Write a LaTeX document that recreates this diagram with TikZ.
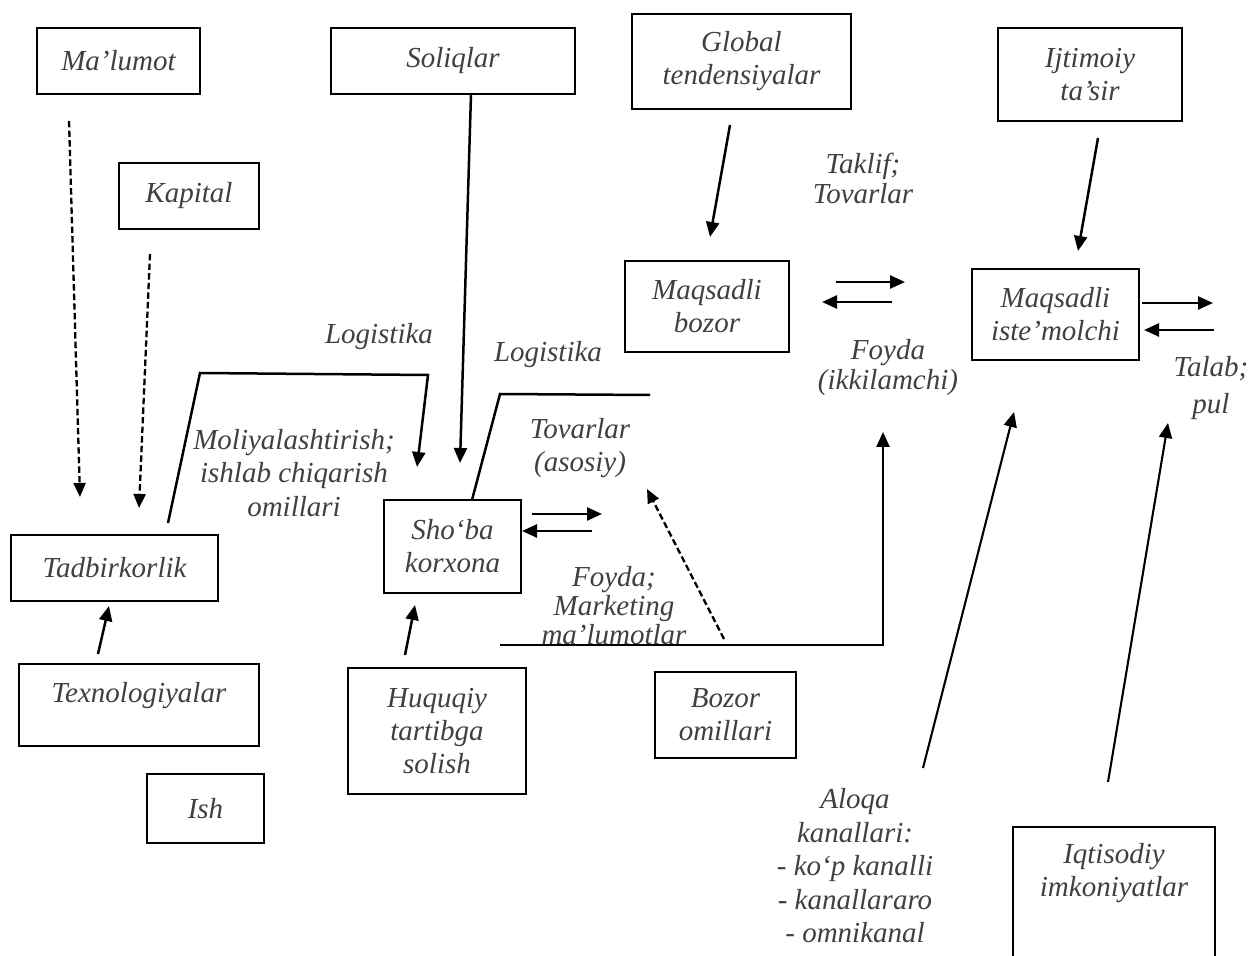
\documentclass[tikz,border=0pt]{standalone}
\usepackage{fontspec}
\setmainfont{Liberation Serif}
\usetikzlibrary{arrows.meta}
\definecolor{txt}{gray}{0.25}

\begin{document}
\begin{tikzpicture}[x=0.5pt,y=-0.5pt,
  lbl/.style={font=\itshape\fontsize{14.5}{16.5}\selectfont, text=txt, align=center, inner sep=0pt},
  box/.style={lbl, draw=black, line width=1.15pt},
  arr/.style={line width=1.25pt, -{Triangle[length=7.5pt,width=6.5pt]}},
  darr/.style={line width=1.15pt, dash pattern=on 3.2pt off 1.6pt, -{Triangle[length=7pt,width=6pt]}},
  flow/.style={line width=1.25pt},
  thin flow/.style={line width=1.05pt, -{Triangle[length=7.5pt,width=6.5pt]}},
]
\useasboundingbox (0,0) rectangle (1252,956);
\clip (0,0) rectangle (1252,956);

% ---------- boxes ----------
\node[box, minimum width=81.5pt, minimum height=33pt] (malumot) at (118.5,61) {Ma’lumot};
\node[box, minimum width=70pt, minimum height=33pt] (kapital) at (189,196) {Kapital};
\node[box, minimum width=122pt, minimum height=33pt] (soliq) at (453,61) {Soliqlar};
\node[box, minimum width=109.5pt, minimum height=47.5pt] (global) at (741.5,61.5) {Global\\tendensiyalar};
\node[box, minimum width=92pt, minimum height=46.5pt] (ijtimoiy) at (1090,74.5) {Ijtimoiy\\ta’sir};
\node[box, minimum width=82pt, minimum height=45.5pt] (mbozor) at (707,306.5) {Maqsadli\\bozor};
\node[box, minimum width=83.5pt, minimum height=45.5pt] (miste) at (1055.5,314.5) {Maqsadli\\iste’molchi};
\node[box, minimum width=68.5pt, minimum height=46.5pt] (shoba) at (452.5,546.5) {Sho‘ba\\korxona};
\node[box, minimum width=103.5pt, minimum height=33pt] (tadbir) at (114.5,568) {Tadbirkorlik};
\node[box, minimum width=120pt, minimum height=41pt, text depth=13pt] (texno) at (139,705) {Texnologiyalar};
\node[box, minimum width=58.5pt, minimum height=34.5pt] (ish) at (205.5,808.5) {Ish};
\node[box, minimum width=89pt, minimum height=63pt] (huquq) at (437,731) {Huquqiy\\tartibga\\solish};
\node[box, minimum width=70.5pt, minimum height=43pt] (bozor) at (725.5,715) {Bozor\\omillari};
% open-ended frame running past the lower edge
\node[lbl] (iqt) at (1114,873.5) {Iqtisodiy\\imkoniyatlar};
\draw[line width=1.15pt] (1013,990) |- (1215,827) -- (1215,990);

% ---------- free labels ----------
\node[lbl] (log1) at (379,337) {Logistika};
\node[lbl] (log2) at (548,355) {Logistika};
\node[lbl, font=\itshape\fontsize{14.5}{16.75}\selectfont] (moliya) at (294,473) {Moliyalashtirish;\\ishlab chiqarish\\omillari};
\node[lbl] (tovar) at (580,448.5) {Tovarlar\\(asosiy)};
\node[lbl, font=\itshape\fontsize{14.5}{14.5}\selectfont] (foyda1) at (614,606) {Foyda;\\Marketing\\ma’lumotlar};
\node[lbl, font=\itshape\fontsize{14.5}{15}\selectfont] (taklif) at (863,178) {Taklif;\\Tovarlar};
\node[lbl, font=\itshape\fontsize{14.5}{15}\selectfont] (foyda2) at (888,368) {Foyda\\(ikkilamchi)};
\node[lbl, font=\itshape\fontsize{14.5}{18.5}\selectfont] (talab) at (1211,388.5) {Talab;\\pul};
\node[lbl, font=\itshape\fontsize{14.5}{16.75}\selectfont] (aloqa) at (855,866) {Aloqa\\kanallari:\\- ko‘p kanalli\\- kanallararo\\- omnikanal};

% ---------- connector end points ----------
\coordinate (malS) at (69,121);   \coordinate (malE) at (80,497);
\coordinate (kapS) at (150,254);  \coordinate (kapE) at (139,508);
\coordinate (tadA) at (168,523);  \coordinate (tadB) at (200,373);
\coordinate (tadC) at (428,375);  \coordinate (tadE) at (417,467);
\coordinate (solS) at (471,94);   \coordinate (solE) at (460,463);
\coordinate (shA) at (472,500);   \coordinate (shB) at (500,394);
\coordinate (shC) at (650,395);
\coordinate (shR1) at (532,514);  \coordinate (shR2) at (602,514);
\coordinate (shL1) at (592,531);  \coordinate (shL2) at (522,531);
\coordinate (huqS) at (405,655);  \coordinate (huqE) at (415,605);
\coordinate (texS) at (98,654);   \coordinate (texE) at (109,606);
\coordinate (botA) at (500,645);  \coordinate (botB) at (883,645);
\coordinate (botE) at (883,432);
\coordinate (mkS) at (724,639);   \coordinate (mkE) at (647,489);
\coordinate (glS) at (730,125);   \coordinate (glE) at (710,237);
\coordinate (ijS) at (1098,138);  \coordinate (ijE) at (1078,251);
\coordinate (mbR1) at (836,282);  \coordinate (mbR2) at (905,282);
\coordinate (mbL1) at (892,302);  \coordinate (mbL2) at (822,302);
\coordinate (miR1) at (1142,303); \coordinate (miR2) at (1213,303);
\coordinate (miL1) at (1214,330); \coordinate (miL2) at (1144,330);
\coordinate (alS) at (923,768);   \coordinate (alE) at (1014,412);
\coordinate (iqS) at (1108,782);  \coordinate (iqE) at (1168,423);

% ---------- connectors ----------
\draw[darr] (malS) -- (malE);
\draw[darr] (kapS) -- (kapE);
\draw[arr] (tadA) -- (tadB) -- (tadC) -- (tadE);
\draw[arr] (solS) -- (solE);
\draw[flow] (shA) -- (shB) -- (shC);
\draw[arr] (shR1) -- (shR2);
\draw[arr] (shL1) -- (shL2);
\draw[arr] (huqS) -- (huqE);
\draw[arr] (texS) -- (texE);
\draw[arr] (botA) -- (botB) -- (botE);
\draw[darr] (mkS) -- (mkE);
\draw[arr] (glS) -- (glE);
\draw[arr] (ijS) -- (ijE);
\draw[arr] (mbR1) -- (mbR2);
\draw[arr] (mbL1) -- (mbL2);
\draw[arr] (miR1) -- (miR2);
\draw[arr] (miL1) -- (miL2);
\draw[thin flow] (alS) -- (alE);
\draw[thin flow] (iqS) -- (iqE);
\end{tikzpicture}
\end{document}
